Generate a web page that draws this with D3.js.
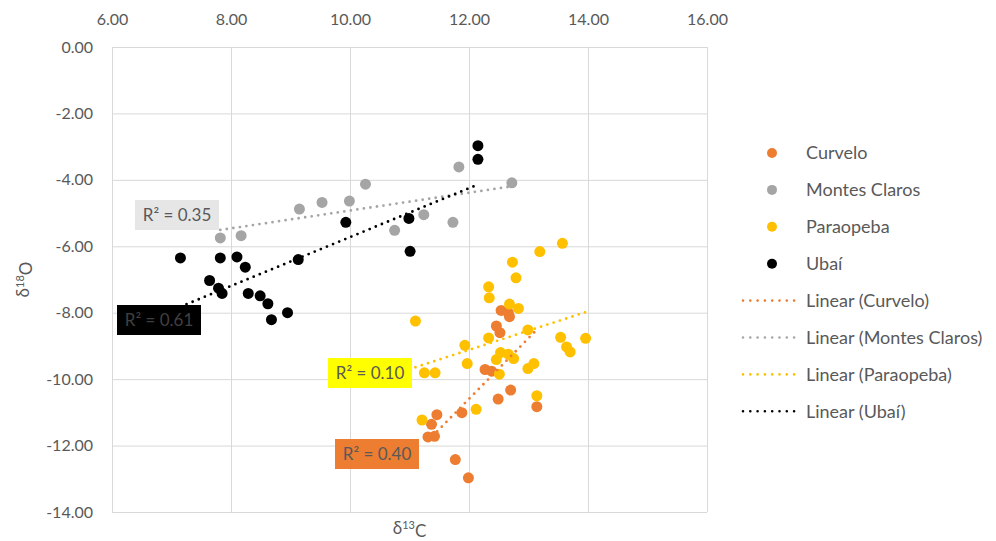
<!DOCTYPE html>
<html>
<head>
<meta charset="utf-8">
<script src="https://cdn.jsdelivr.net/npm/d3@7"></script>
<style>
  html, body { margin: 0; padding: 0; background: #fff; }
  svg { display: block; font-family: Lato, "Open Sans", sans-serif; }
</style>
</head>
<body>
<svg id="chart" width="996" height="541"></svg>
<script>
// Isotope values per site: δ13C (x) and δ18O (y)
const curveloX = [12.54, 12.66, 12.68, 12.46, 12.52, 12.27, 12.38, 12.70, 12.49, 13.14, 11.88, 11.46, 11.37, 11.31, 11.42, 11.77, 11.99];
const curveloY = [-7.93, -8.00, -8.12, -8.40, -8.60, -9.71, -9.76, -10.33, -10.60, -10.83, -11.01, -11.07, -11.36, -11.74, -11.72, -12.42, -12.97];

const montesX = [7.82, 8.17, 9.15, 9.53, 9.99, 10.26, 10.75, 11.24, 11.73, 11.83, 12.72];
const montesY = [-5.75, -5.68, -4.88, -4.68, -4.64, -4.13, -5.52, -5.05, -5.28, -3.61, -4.09];

const paraX = [13.57, 13.19, 12.73, 12.79, 12.33, 12.34, 12.68, 12.83, 11.10, 12.99, 12.33, 13.54, 13.96, 11.93, 13.64, 13.70, 12.53, 12.66, 12.75, 12.46, 11.97, 13.09, 12.99, 11.25, 11.43, 12.51, 13.14, 12.12, 11.21];
const paraY = [-5.91, -6.16, -6.48, -6.95, -7.22, -7.55, -7.74, -7.87, -8.25, -8.52, -8.76, -8.74, -8.77, -8.98, -9.03, -9.18, -9.20, -9.25, -9.38, -9.41, -9.53, -9.53, -9.68, -9.81, -9.81, -9.85, -10.50, -10.91, -11.23];

const ubaiX = [7.15, 7.82, 8.10, 8.24, 7.64, 7.79, 7.85, 8.29, 8.49, 8.62, 8.68, 8.95, 9.13, 9.93, 10.99, 11.01, 12.15, 12.15];
const ubaiY = [-6.35, -6.35, -6.32, -6.63, -7.03, -7.26, -7.42, -7.42, -7.49, -7.73, -8.21, -8.00, -6.40, -5.28, -5.16, -6.15, -2.97, -3.38];

const seriesNames = ["Curvelo", "Montes Claros", "Paraopeba", "Ubaí"];
const rSquared = ["0.40", "0.35", "0.10", "0.61"];

const xTicks = [6, 8, 10, 12, 14, 16];
const yTicks = [0, -2, -4, -6, -8, -10, -12, -14];

// Styling per series (same order as seriesNames)
const colors = ["#ED7D31", "#A5A5A5", "#FFC000", "#000000"];
const labelStyle = [
  { x: 335, y: 439, w: 84, h: 30, fill: "#ED7D31", text: "#595959" },
  { x: 135, y: 200, w: 84, h: 30, fill: "#E7E6E6", text: "#595959" },
  { x: 328, y: 358, w: 84, h: 30, fill: "#FFFF00", text: "#595959" },
  { x: 117, y: 305, w: 84, h: 30, fill: "#000000", text: "#404040" }
];

const series = [
  { xs: curveloX, ys: curveloY },
  { xs: montesX, ys: montesY },
  { xs: paraX, ys: paraY },
  { xs: ubaiX, ys: ubaiY }
].map((s, i) => ({
  name: seriesNames[i],
  color: colors[i],
  r2: rSquared[i],
  label: labelStyle[i],
  points: s.xs.map((x, j) => ({ x, y: s.ys[j] }))
}));

// Ordinary least-squares fit
function linearFit(pts) {
  const mx = d3.mean(pts, p => p.x), my = d3.mean(pts, p => p.y);
  let sxy = 0, sxx = 0;
  pts.forEach(p => { sxy += (p.x - mx) * (p.y - my); sxx += (p.x - mx) ** 2; });
  const b = sxy / sxx, a = my - b * mx;
  const [x0, x1] = d3.extent(pts, p => p.x);
  return [{ x: x0, y: a + b * x0 }, { x: x1, y: a + b * x1 }];
}

const svg = d3.select("#chart");
const plotL = 112, plotR = 707, plotT = 47, plotB = 512;

const x = d3.scaleLinear().domain([6, 16]).range([plotL, plotR]);
const y = d3.scaleLinear().domain([0, -14]).range([plotT, plotB]);
const fmt = d => d.toFixed(2);

// Top value axis with vertical gridlines
const gx = svg.append("g")
  .attr("transform", `translate(0,${plotT})`)
  .call(d3.axisTop(x).tickValues(xTicks).tickFormat(fmt)
    .tickSize(-(plotB - plotT)).tickPadding(20));
// Left value axis with horizontal gridlines
const gy = svg.append("g")
  .attr("transform", `translate(${plotL},0)`)
  .call(d3.axisLeft(y).tickValues(yTicks).tickFormat(fmt)
    .tickSize(-(plotR - plotL)).tickPadding(19));

[gx, gy].forEach(g => {
  g.select(".domain").remove();
  g.selectAll(".tick line").attr("stroke", "#D9D9D9").attr("stroke-width", 1);
  g.selectAll(".tick text").attr("fill", "#595959")
    .style("font-size", "16px").style("font-family", "Lato, 'Open Sans', sans-serif");
});
gx.selectAll(".tick text").attr("dy", "-0.1em");

// Axis titles
const xTitle = svg.append("text")
  .attr("x", (plotL + plotR) / 2).attr("y", 534)
  .attr("text-anchor", "middle").attr("fill", "#595959")
  .style("font-size", "17px");
xTitle.append("tspan").text("δ");
xTitle.append("tspan").text("13").style("font-size", "11px").attr("dy", "-0.45em");
xTitle.append("tspan").text("C").attr("dy", "0.45em");

const yTitle = svg.append("text")
  .attr("transform", `translate(29,${(plotT + plotB) / 2}) rotate(-90)`)
  .attr("text-anchor", "middle").attr("fill", "#595959")
  .style("font-size", "17px");
yTitle.append("tspan").text("δ");
yTitle.append("tspan").text("18").style("font-size", "11px").attr("dy", "-0.45em");
yTitle.append("tspan").text("O").attr("dy", "0.45em");

// Scatter points
series.forEach(s => {
  svg.append("g").selectAll("circle").data(s.points).join("circle")
    .attr("cx", d => x(d.x)).attr("cy", d => y(d.y))
    .attr("r", 5.5).attr("fill", s.color);
});

// Dotted linear trendlines
const line = d3.line().x(d => x(d.x)).y(d => y(d.y));
series.forEach(s => {
  svg.append("path").datum(linearFit(s.points))
    .attr("d", line).attr("fill", "none")
    .attr("stroke", s.color).attr("stroke-width", 2.8)
    .attr("stroke-linecap", "round").attr("stroke-dasharray", "0 6.6");
});

// R² labels
series.forEach(s => {
  const L = s.label;
  const g = svg.append("g");
  g.append("rect").attr("x", L.x).attr("y", L.y).attr("width", L.w).attr("height", L.h)
    .attr("fill", L.fill);
  g.append("text").attr("x", L.x + L.w / 2).attr("y", L.y + L.h / 2)
    .attr("dy", "0.36em").attr("text-anchor", "middle")
    .attr("fill", L.text).style("font-size", "17px")
    .text(`R² = ${s.r2}`);
});

// Legend
const legend = svg.append("g");
const rowY = i => 153 + i * 36.9;
series.forEach((s, i) => {
  legend.append("circle").attr("cx", 772).attr("cy", rowY(i)).attr("r", 5).attr("fill", s.color);
  legend.append("text").attr("x", 806).attr("y", rowY(i)).attr("dy", "0.35em")
    .attr("fill", "#595959").style("font-size", "18px").text(s.name);
});
series.forEach((s, i) => {
  const yy = rowY(i + 4);
  legend.append("line").attr("x1", 743).attr("x2", 801).attr("y1", yy).attr("y2", yy)
    .attr("stroke", s.color).attr("stroke-width", 2.6)
    .attr("stroke-linecap", "round").attr("stroke-dasharray", "0 7.3");
  legend.append("text").attr("x", 806).attr("y", yy).attr("dy", "0.35em")
    .attr("fill", "#595959").style("font-size", "18px").text(`Linear (${s.name})`);
});
</script>
</body>
</html>
